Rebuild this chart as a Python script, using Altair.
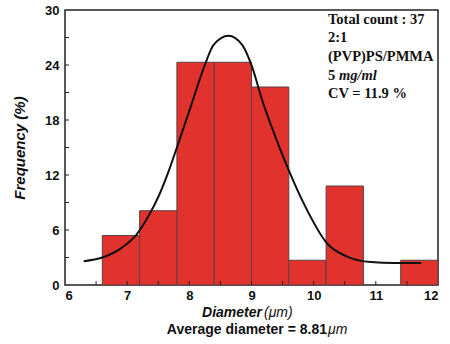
import altair as alt
import pandas as pd

# Histogram bins (diameter, µm) and frequency (%)
bin_start = [6.6, 7.2, 7.8, 8.4, 9.0, 9.6, 10.2, 11.4]
bin_end = [7.2, 7.8, 8.4, 9.0, 9.6, 10.2, 10.8, 12.0]
freq = [5.4, 8.1, 24.3, 24.3, 21.6, 2.7, 10.8, 2.7]

# Fitted curve, points
fit_x = [6.30, 6.60, 6.90, 7.15, 7.35, 7.50, 7.65, 7.80, 8.02, 8.26, 8.39, 8.63,
         8.85, 9.01, 9.17, 9.36, 9.60, 9.84, 10.22, 10.54, 10.92, 11.30, 11.73]
fit_y = [2.6, 3.0, 4.0, 5.5, 7.6, 9.6, 12.1, 15.0, 19.4, 24.2, 26.2, 27.2,
         26.2, 23.8, 20.2, 16.6, 12.5, 8.9, 4.5, 3.1, 2.5, 2.4, 2.4]

# Axis ticks / labels
x_labels = [6, 7, 8, 9, 10, 11, 12]
y_labels = [0, 6, 12, 18, 24, 30]
x_ticks = [6.5, 7, 7.5, 8, 8.5, 9, 9.5, 10, 10.5, 11, 11.5]
y_ticks = [3, 6, 9, 12, 15, 18, 21, 24, 27]

W, H = 373, 275
SANS = "Liberation Sans"
SERIF = "Liberation Serif"

xs = alt.Scale(domain=[6, 12], nice=False, zero=False)
ys = alt.Scale(domain=[0, 30], nice=False)

ax_x = alt.Axis(values=x_labels, title=None, tickSize=0, domain=False,
                grid=False, labelFont=SANS, labelFontWeight="bold",
                labelFontSize=13, labelColor="#111", labelPadding=4,
                format="d")
ax_y = alt.Axis(values=y_labels, title="Frequency (%)", tickSize=0,
                domain=False, grid=False, labelFont=SANS,
                labelFontWeight="bold", labelFontSize=13,
                labelColor="#111", labelPadding=6, format="d",
                titleFont=SANS, titleFontWeight="bold",
                titleFontStyle="italic", titleFontSize=15,
                titleColor="#111", titleX=-46, titleY=H / 2,
                titleAngle=270, titleAlign="center",
                titleBaseline="middle")

bars_df = pd.DataFrame({"start": bin_start, "end": bin_end, "freq": freq,
                        "base": [0] * len(freq)})
fit_df = pd.DataFrame({"x": fit_x, "y": fit_y})

bars = alt.Chart(bars_df).mark_rect(
    fill="#e2322d", stroke="#5a4040", strokeWidth=1, opacity=1
).encode(
    x=alt.X("start:Q", scale=xs, axis=ax_x),
    x2="end:Q",
    y=alt.Y("freq:Q", scale=ys, axis=ax_y),
    y2="base:Q",
)

curve = alt.Chart(fit_df).mark_line(
    color="#111", strokeWidth=2, interpolate="monotone"
).encode(
    x=alt.X("x:Q", scale=xs, axis=ax_x),
    y=alt.Y("y:Q", scale=ys, axis=ax_y),
)

xt = alt.Chart(pd.DataFrame({"t": x_ticks})).mark_rule(
    color="#222", strokeWidth=1
).encode(
    x=alt.X("t:Q", scale=xs, axis=ax_x),
    y=alt.value(H), y2=alt.value(H - 4),
)

yt = alt.Chart(pd.DataFrame({"t": y_ticks})).mark_rule(
    color="#222", strokeWidth=1
).encode(
    y=alt.Y("t:Q", scale=ys, axis=ax_y),
    x=alt.value(0), x2=alt.value(4),
)


def txt(s, x, y, font, size, style="normal", weight="bold", align="left"):
    return alt.Chart(pd.DataFrame({"s": [s]})).mark_text(
        font=font, fontSize=size, fontStyle=style, fontWeight=weight,
        align=align, baseline="middle", color="#111"
    ).encode(text="s:N", x=alt.value(x), y=alt.value(y))


notes = [
    txt("Total count : 37", 263, 10, SERIF, 14.5),
    txt("2:1", 263, 28, SERIF, 14.5),
    txt("(PVP)PS/PMMA", 263, 47, SERIF, 14.5),
    txt("5", 263, 66, SERIF, 14.5),
    txt("mg/ml", 274, 66, SERIF, 14.5, style="italic"),
    txt("CV = 11.9 %", 263, 84, SERIF, 14.5),
    txt("Diameter", 197, 303, SANS, 14, style="italic", align="right"),
    txt("(μm)", 199, 303, SANS, 14, style="italic", weight="normal"),
    txt("Average diameter = 8.81", 262, 320, SANS, 14, align="right"),
    txt("μm", 263, 320, SANS, 14, style="italic", weight="normal"),
]

chart = alt.layer(bars, curve, xt, yt, *notes).properties(
    width=W, height=H,
    autosize=alt.AutoSizeParams(type="none"),
    padding={"left": 65, "top": 10, "right": 12, "bottom": 59},
).configure_view(
    stroke="#222", strokeWidth=1.5
)

chart.save("out.html", embed_options={"renderer": "svg", "actions": False})
